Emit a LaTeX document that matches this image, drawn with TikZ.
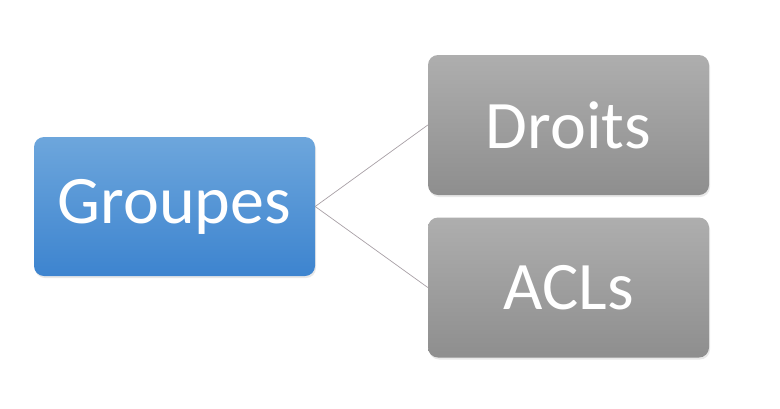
\documentclass[tikz,border=0pt]{standalone}
\usepackage{fontspec}
\setmainfont{Carlito}
\usepackage{tikz}
\usetikzlibrary{shadows}

\definecolor{bluetop}{HTML}{6DA6DC}
\definecolor{bluebot}{HTML}{3D84CF}
\definecolor{graytop}{HTML}{AEAEAE}
\definecolor{graybot}{HTML}{8E8E8E}
\definecolor{linkgray}{HTML}{A8A0A6}

\begin{document}
\begin{tikzpicture}[
  x=1pt,y=-1pt,
  font=\fontsize{68}{74}\selectfont,
  parent/.style={rounded corners=10pt,align=center,minimum width=281pt,minimum height=139pt,inner sep=0pt,
    top color=bluetop,bottom color=bluebot,text=white,drop shadow={opacity=0.18,shadow xshift=1pt,shadow yshift=-2pt}},
  child/.style={rounded corners=10pt,align=center,minimum width=281pt,minimum height=140pt,inner sep=0pt,
    top color=graytop,bottom color=graybot,text=white,drop shadow={opacity=0.18,shadow xshift=1pt,shadow yshift=-2pt}},
  link/.style={draw=linkgray,line width=0.7pt}
]
\useasboundingbox (0,0) rectangle (780,408);

\node[parent] (groupes) at (174.5,206.5) {Groupes};
\node[child] (droits) at (568.5,125) {Droits};
\node[child] (acls) at (568.5,287.5) {ACLs};

\draw[link] (groupes.east) -- (droits.west);
\draw[link] (groupes.east) -- (acls.west);
\end{tikzpicture}
\end{document}
